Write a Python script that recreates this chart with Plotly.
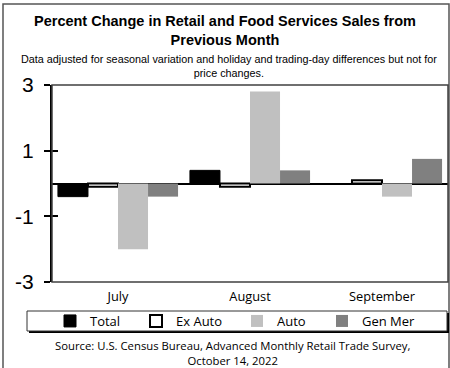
import plotly.graph_objects as go

months = ["July", "August", "September"]
total = [-0.4, 0.4, 0.0]
ex_auto = [-0.1, -0.1, 0.1]
auto = [-2.0, 2.8, -0.4]
gen_mer = [-0.4, 0.4, 0.75]
y_ticks = [-3, -1, 1, 3]

W, H = 450, 368
L, R, T, B = 52, 2, 85, 86
PW, PH = W - L - R, H - T - B

def px_x(p):
    return (p - L) / PW

def px_y(p):
    return 1 - (p - T) / PH

fig = go.Figure()
fig.add_bar(x=months, y=total, name="Total", legend="legend",
            marker=dict(color="black", line=dict(color="black", width=1)))
fig.add_bar(x=months, y=ex_auto, name="Ex Auto", legend="legend2",
            marker=dict(color="white", line=dict(color="black", width=2)))
fig.add_bar(x=months, y=auto, name="Auto", legend="legend3",
            marker=dict(color="#c0c0c0", line=dict(width=0)))
fig.add_bar(x=months, y=gen_mer, name="Gen Mer", legend="legend4",
            marker=dict(color="#808080", line=dict(width=0)))
# invisible trace to carry the inner tick marks axis
fig.add_scatter(x=months, y=[0, 0, 0], yaxis="y2", mode="markers", marker=dict(opacity=0),
                showlegend=False, hoverinfo="skip")

sans = "Liberation Sans, Arial, sans-serif"
cal = "Open Sans, sans-serif"

def leg(xpx):
    return dict(orientation="h", x=px_x(xpx), y=px_y(321), xanchor="left", yanchor="middle",
                bgcolor="rgba(0,0,0,0)", borderwidth=0,
                font=dict(family=cal, size=13, color="black"), itemwidth=30)

fig.update_layout(
    width=W, height=H,
    margin=dict(l=L, r=R, t=T, b=B, pad=0),
    paper_bgcolor="white", plot_bgcolor="white",
    barmode="group", bargap=0.09, bargroupgap=0,
    showlegend=True,
    legend=leg(50), legend2=leg(136), legend3=leg(237), legend4=leg(322),
    xaxis=dict(showgrid=False, showline=False, ticks="", tickfont=dict(family=cal, size=12.8, color="black"),
               ticklabelstandoff=5, range=[-0.5, 2.5]),
    yaxis=dict(range=[-3, 3], tickvals=y_ticks, ticktext=[str(v) for v in y_ticks],
               showgrid=False, zeroline=True, zerolinecolor="black", zerolinewidth=2,
               showline=True, linecolor="black", linewidth=2, ticks="outside", ticklen=6,
               tickwidth=2, tickcolor="black", tickfont=dict(family=sans, size=21, color="black"),
               ticklabelstandoff=6),
    yaxis2=dict(range=[-3, 3], overlaying="y", side="left", tickvals=y_ticks, showticklabels=False,
                ticks="inside", ticklen=6, tickwidth=2, tickcolor="black", showgrid=False,
                zeroline=False, showline=False),
)

shapes = []
# outer border
shapes.append(dict(type="rect", xref="paper", yref="paper", x0=px_x(3), x1=px_x(449), y0=px_y(372), y1=px_y(4),
                   line=dict(color="#555555", width=1.5), fillcolor="rgba(0,0,0,0)", layer="below"))
# plot frame
shapes.append(dict(type="rect", xref="paper", yref="paper", x0=0, x1=1, y0=0, y1=1,
                   line=dict(color="#404040", width=1.5), fillcolor="rgba(0,0,0,0)", layer="above"))
# legend shadow + box
shapes.append(dict(type="rect", xref="paper", yref="paper", x0=px_x(29), x1=px_x(449), y0=px_y(333), y1=px_y(313),
                   line=dict(width=0), fillcolor="black", layer="above"))
shapes.append(dict(type="rect", xref="paper", yref="paper", x0=px_x(27), x1=px_x(447), y0=px_y(331), y1=px_y(311),
                   line=dict(color="#333333", width=1), fillcolor="white", layer="above"))
fig.update_layout(shapes=shapes)

fig.add_annotation(xref="paper", yref="paper", x=px_x(225), y=px_y(11), xanchor="center", yanchor="top",
                   showarrow=False, align="center",
                   text="<b>Percent Change in Retail and Food Services Sales from<br>Previous Month</b>",
                   font=dict(family=sans, size=14.5, color="black"))
fig.add_annotation(xref="paper", yref="paper", x=px_x(229), y=px_y(51), xanchor="center", yanchor="top",
                   showarrow=False, align="center",
                   text="Data adjusted for seasonal variation and holiday and trading-day differences but not for<br>price changes.",
                   font=dict(family=sans, size=10.8, color="black"))
fig.add_annotation(xref="paper", yref="paper", x=px_x(232), y=px_y(336), xanchor="center", yanchor="top",
                   showarrow=False, align="center",
                   text="Source: U.S. Census Bureau, Advanced Monthly Retail Trade Survey,<br>October 14, 2022",
                   font=dict(family=cal, size=11.3, color="black"))

fig.write_html("out.html", config={"displayModeBar": False},
               post_script="document.body.style.margin='0';document.body.style.overflow='hidden';")
